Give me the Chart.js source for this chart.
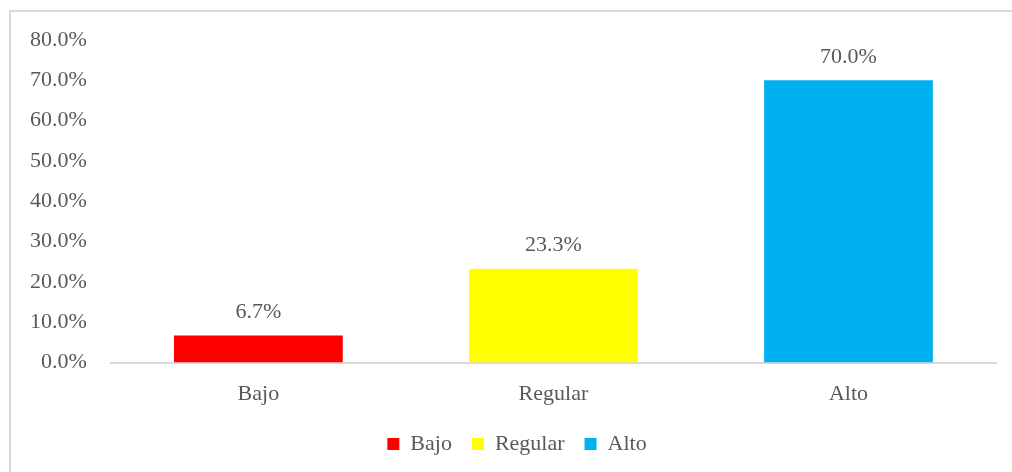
<!DOCTYPE html>
<html>
<head>
<meta charset="utf-8">
<script src="https://cdn.jsdelivr.net/npm/chart.js@4"></script>
<style>
  html, body { margin: 0; padding: 0; background: #fff; }
  #wrap { width: 1012px; height: 472px; position: relative; }
</style>
</head>
<body>
<div id="wrap"><canvas id="chart" width="1012" height="472"></canvas></div>
<script>
// Nivel - distribución porcentual
const CATEGORIES = ['Bajo', 'Regular', 'Alto'];
const VALUES = [6.7, 23.3, 70.0];
const COLORS = ['#FF0000', '#FFFF00', '#00B0F0'];
const Y_MAX = 80;
const Y_STEP = 10;

const TEXT = '#595959';
const LINE = '#d9d9d9';
const FONT = { family: '"Liberation Serif", "Times New Roman", serif', size: 22 };

const fmtPct = (v) => Number(v).toFixed(1) + '%';

// frame around the chart (cut off at right / bottom like the original)
const framePlugin = {
  id: 'frame',
  beforeDraw(chart) {
    const c = chart.ctx;
    c.save();
    c.strokeStyle = LINE;
    c.lineWidth = 2;
    c.strokeRect(10, 11, 1100, 1000);
    c.restore();
  },
  // the legend sits a bit right of the canvas centre in the original
  afterLayout(chart) {
    if (chart.legend) { chart.legend.left += 16; chart.legend.right += 16; }
  },
};

// value labels above bars
const valueLabels = {
  id: 'valueLabels',
  afterDatasetsDraw(chart) {
    const c = chart.ctx;
    const meta = chart.getDatasetMeta(0);
    c.save();
    c.fillStyle = TEXT;
    c.font = `${FONT.size}px ${FONT.family}`;
    c.textAlign = 'center';
    c.textBaseline = 'middle';
    meta.data.forEach((bar, i) => {
      c.fillText(fmtPct(VALUES[i]), bar.x, bar.y - 23);
    });
    c.restore();
  },
};

new Chart(document.getElementById('chart'), {
  type: 'bar',
  data: {
    labels: CATEGORIES,
    datasets: [{
      data: VALUES,
      backgroundColor: COLORS,
      borderWidth: 0,
      categoryPercentage: 1,
      barPercentage: 0.572,
    }],
  },
  options: {
    responsive: false,
    animation: false,
    devicePixelRatio: 1,
    layout: { padding: { left: 6, right: 16, top: 40, bottom: 7 } },
    plugins: {
      tooltip: { enabled: false },
      legend: {
        display: true,
        position: 'bottom',
        labels: {
          color: TEXT,
          font: FONT,
          boxWidth: 12,
          boxHeight: 12,
          padding: 20,
          generateLabels: () => CATEGORIES.map((name, i) => ({
            text: name,
            fillStyle: COLORS[i],
            strokeStyle: COLORS[i],
            lineWidth: 0,
            fontColor: TEXT,
            index: i,
          })),
        },
      },
    },
    scales: {
      x: {
        grid: { display: false, drawTicks: false },
        border: { display: true, color: LINE, width: 2 },
        ticks: { color: TEXT, font: FONT, padding: 18 },
        afterFit: (s) => { s.height -= 12; },
      },
      y: {
        min: 0,
        max: Y_MAX,
        grid: { display: false, drawTicks: false },
        border: { display: false },
        ticks: { stepSize: Y_STEP, color: TEXT, font: FONT, padding: 24, callback: (v) => fmtPct(v) },
      },
    },
  },
  plugins: [framePlugin, valueLabels],
});
</script>
</body>
</html>
